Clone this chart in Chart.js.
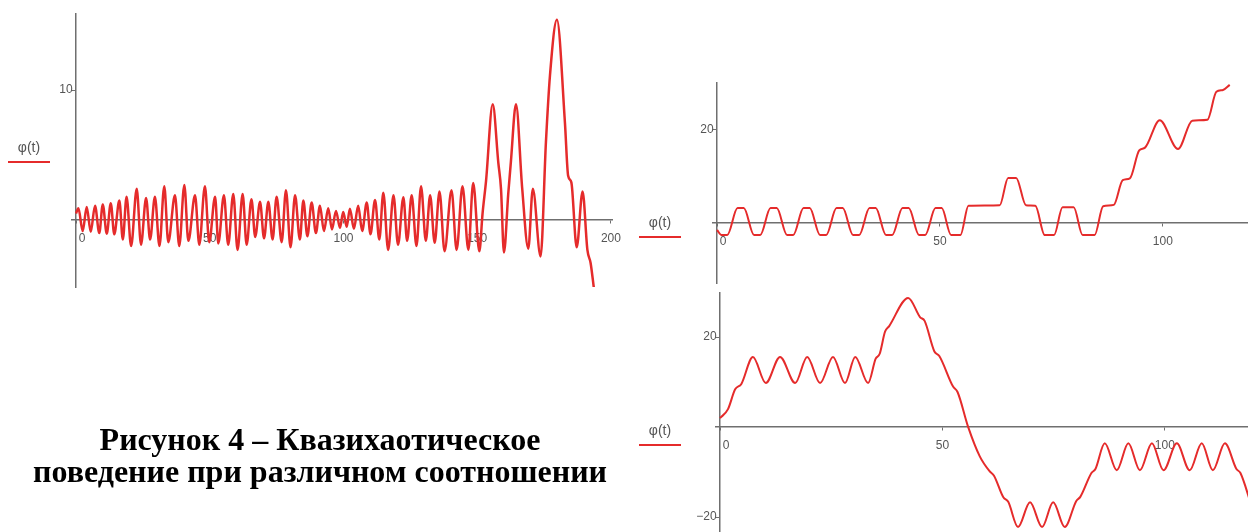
<!DOCTYPE html>
<html>
<head>
<meta charset="utf-8">
<script src="https://cdn.jsdelivr.net/npm/chart.js@4.4.1/dist/chart.umd.min.js"></script>
<style>
  body { margin: 0; background: #fff; }
  #page { position: relative; width: 1248px; height: 532px; overflow: hidden; background: #fff; }
  canvas { position: absolute; }
  .ylab { position: absolute; font: 14px "Liberation Sans", Arial, sans-serif; color: #555; width: 44px; text-align: center; line-height: 14px; }
  .ylab span { display: block; margin: 7px auto 0; width: 42px; height: 2px; background: #e52b2b; }
  #caption { position: absolute; left: 0; top: 423px; width: 640px; text-align: center;
    font: bold 32px "Liberation Serif", "Times New Roman", serif; line-height: 32px; color: #000; }
</style>
</head>
<body>
<div id="page">
  <canvas id="plot1" width="640" height="300" style="left:0;top:0"></canvas>
  <canvas id="plot2" width="628" height="220" style="left:620px;top:70px"></canvas>
  <canvas id="plot3" width="628" height="247" style="left:620px;top:285px"></canvas>
  <div class="ylab" style="left:7px;top:140px">φ(t)<span></span></div>
  <div class="ylab" style="left:638px;top:215px">φ(t)<span></span></div>
  <div class="ylab" style="left:638px;top:423px">φ(t)<span></span></div>
  <div id="caption">Рисунок 4 – Квазихаотическое<br>поведение при различном соотношении</div>
</div>
<script>
// plot 1 (top left): t and phi at the turning points of the trace
const t1 = [0, 0.9, 2.5, 4.0, 5.5, 7.1, 8.7, 10.0, 11.5, 13.0, 14.3, 16.2, 17.5, 18.9, 20.6, 22.7, 24.3, 26.2, 27.7, 29.5,
  31.2, 33.0, 34.5, 37.0, 38.6, 40.5, 42.0, 44.5, 46.1, 48.2, 49.8, 52.0, 53.2, 55.3, 56.9, 58.8, 60.4, 62.3, 63.8, 65.6,
  67.0, 68.8, 70.3, 71.9, 73.5, 75.0, 76.9, 78.5, 80.2, 81.9, 83.7, 85.0, 86.5, 88.1, 89.7, 91.2, 92.7, 94.3, 95.7, 97.2,
  98.7, 99.9, 101.2, 102.4, 103.9, 105.5, 107.0, 108.7, 110.1, 111.8, 113.4, 114.9, 116.7, 118.7, 120.4, 122.4, 123.8, 125.5, 127.3, 129.0,
  130.8, 132.4, 134.1, 135.9, 137.8, 140.4, 142.3, 144.5, 146.7, 148.5, 150.8, 152.0, 153.3, 155.8, 157.9, 158.9, 160.0, 161.6, 162.6, 164.5,
  166.8, 169.1, 170.8, 173.7, 175.7, 177.2, 179.8, 182.8, 184.0, 185.2, 187.2, 189.4, 191.2, 192.4, 193.6, 194.4];
const phi1 = [0.5, 0.9, -0.85, 1.0, -0.9, 1.1, -1.0, 1.2, -1.05, 1.3, -1.1, 1.5, -1.5, 1.8, -2.0, 2.4, -1.9, 1.7, -1.5, 1.8,
  -2.0, 2.6, -1.7, 1.9, -2.0, 2.7, -1.6, 1.9, -1.9, 2.6, -1.7, 1.8, -1.8, 1.9, -1.9, 2.0, -2.3, 2.0, -1.9, 1.6,
  -1.3, 1.4, -1.4, 1.4, -1.5, 1.8, -1.7, 2.3, -2.1, 1.9, -1.5, 1.5, -1.25, 1.35, -1.0, 1.1, -0.85, 0.9, -0.72, 0.7,
  -0.6, 0.62, -0.52, 0.87, -0.67, 1.1, -0.85, 1.35, -1.1, 1.55, -1.5, 2.1, -2.3, 1.9, -1.9, 1.75, -1.6, 1.9, -2.0, 2.6,
  -1.6, 1.9, -1.75, 2.2, -2.4, 2.3, -2.3, 2.6, -2.3, 2.85, -2.4, 0.5, 3.0, 8.9, 4.4, 2.4, -2.5, 2.0, 4.5, 8.9,
  2.5, -2.2, 2.4, -2.8, 6.0, 11.1, 15.4, 7.5, 3.4, 2.9, -2.1, 2.2, -2.3, -3.3, -5.2, -6.5];

// plot 2 (top right)
const t2 = [0, 1.0, 2.3, 4.6, 6.0, 8.3, 9.7, 12.0, 13.4, 15.7, 17.1, 19.4, 20.8, 23.1, 24.5, 26.8, 28.2, 30.5, 31.9, 34.2,
  35.6, 37.9, 39.3, 41.6, 43.0, 45.3, 46.7, 49.0, 50.4, 52.5, 54.6, 56.4, 63.4, 65.3, 67.1, 69.3, 71.4, 73.5, 75.6, 77.5,
  80.0, 82.0, 84.7, 86.6, 89.0, 91.0, 92.6, 94.7, 96.0, 99.3, 103.4, 106.6, 110.0, 112.0, 113.5, 115.0];
const phi2 = [-1.5, -2.6, -2.6, 3.2, 3.2, -2.6, -2.6, 3.2, 3.2, -2.6, -2.6, 3.2, 3.2, -2.6, -2.6, 3.2, 3.2, -2.6, -2.6, 3.2,
  3.2, -2.6, -2.6, 3.2, 3.2, -2.6, -2.6, 3.2, 3.2, -2.6, -2.6, 3.7, 3.8, 9.7, 9.7, 3.8, 3.7, -2.6, -2.6, 3.4,
  3.4, -2.6, -2.6, 3.6, 3.9, 9.2, 9.6, 15.6, 16.2, 22.1, 15.9, 22.0, 22.2, 28.2, 28.6, 29.7];

// plot 3 (bottom right)
const t3 = [0, 1.8, 3.4, 4.8, 7.4, 10.3, 13.5, 16.9, 19.6, 22.5, 25.4, 28.1, 30.4, 33.3, 35.0, 35.9, 37.1, 38.0, 42.3, 45.0,
  46.0, 48.2, 49.3, 52.4, 53.4, 55.8, 58.4, 60.6, 61.6, 63.7, 64.8, 67.0, 69.7, 72.4, 74.9, 77.5, 80.1, 81.0, 83.5, 84.4,
  86.5, 89.2, 91.8, 94.4, 97.1, 99.7, 102.7, 105.6, 108.3, 110.8, 113.5, 116.1, 117.0, 119.5];
const phi3 = [2.0, 4.0, 8.4, 9.6, 15.6, 9.8, 15.6, 9.8, 15.6, 9.8, 15.6, 9.8, 15.6, 9.8, 15.2, 16.3, 21.2, 22.4, 28.7, 24.4,
  23.6, 16.8, 15.8, 9.0, 7.8, 0, -6.5, -9.8, -10.8, -15.6, -16.6, -22.2, -16.7, -22.2, -16.7, -22.2, -16.4, -15.5, -10.2, -9.3,
  -3.6, -9.6, -3.6, -9.6, -3.6, -9.6, -3.6, -9.6, -3.6, -9.6, -3.6, -9.3, -10.2, -17.5];

// tick labels
const xTicks1 = [0, 50, 100, 150, 200];
const yTicks1 = [10];
const xTicks2 = [0, 50, 100];
const yTicks2 = [20];
const xTicks3 = [0, 50, 100];
const yTicks3 = [20, -20];

const RED = '#e52b2b';
const AXIS = '#6f6f6f';
const tickFont = { family: '"Liberation Sans", Arial, sans-serif', size: 12 };

function fmtX(v) {
  // mathcad puts the zero label just right of the y axis
  return v === 0 ? '\u2002\u20020' : String(v);
}
function fmtY(v) {
  return (v < 0 ? '\u2212' + Math.abs(v) : String(v)) + ' ';
}

function drawPlot(id, ts, vs, xMin, xMax, yMin, yMax, xTicks, yTicks, pad, lw) {
  const pts = ts.map((t, i) => ({ x: t, y: vs[i] }));
  return new Chart(document.getElementById(id), {
    type: 'line',
    data: {
      datasets: [{
        data: pts,
        borderColor: RED,
        borderWidth: lw,
        pointRadius: 0,
        fill: false,
        cubicInterpolationMode: 'monotone'
      }]
    },
    options: {
      responsive: false,
      animation: false,
      events: [],
      layout: { padding: pad },
      plugins: { legend: { display: false }, tooltip: { enabled: false } },
      scales: {
        x: {
          type: 'linear',
          min: xMin, max: xMax,
          bounds: 'data',
          position: { y: 0 },
          afterFit: s => { s.height = 0; s.paddingLeft = 0; s.paddingRight = 0; },
          afterBuildTicks: s => { s.ticks = xTicks.map(v => ({ value: v })); },
          grid: { drawOnChartArea: false, drawTicks: true, tickLength: 3, color: AXIS, lineWidth: 1 },
          border: { display: true, color: AXIS, width: 1.5 },
          ticks: { color: '#555', font: tickFont, padding: 8, maxRotation: 0, autoSkip: false, callback: v => fmtX(v) }
        },
        y: {
          type: 'linear',
          min: yMin, max: yMax,
          bounds: 'data',
          position: { x: 0 },
          afterFit: s => { s.width = 0; s.paddingTop = 0; s.paddingBottom = 0; },
          afterBuildTicks: s => { s.ticks = yTicks.map(v => ({ value: v })); },
          grid: { drawOnChartArea: false, drawTicks: true, tickLength: 3, color: AXIS, lineWidth: 1 },
          border: { display: true, color: AXIS, width: 1.5 },
          ticks: { color: '#555', font: tickFont, padding: 1, autoSkip: false, callback: v => fmtY(v) }
        }
      }
    }
  });
}

drawPlot('plot1', t1, phi1, -1.5, 200.4, -5.15, 15.85, xTicks1, yTicks1, { left: 72, right: 28, top: 14, bottom: 13 }, 2.5);
drawPlot('plot2', t2, phi2, -0.9, 119.1, -12.9, 30.1, xTicks2, yTicks2, { left: 93, right: 0, top: 13, bottom: 7 }, 2);
drawPlot('plot3', t3, phi3, -0.9, 118.7, -23.3, 29.8, xTicks3, yTicks3, { left: 96, right: 0, top: 8, bottom: 0 }, 2);
</script>
</body>
</html>
